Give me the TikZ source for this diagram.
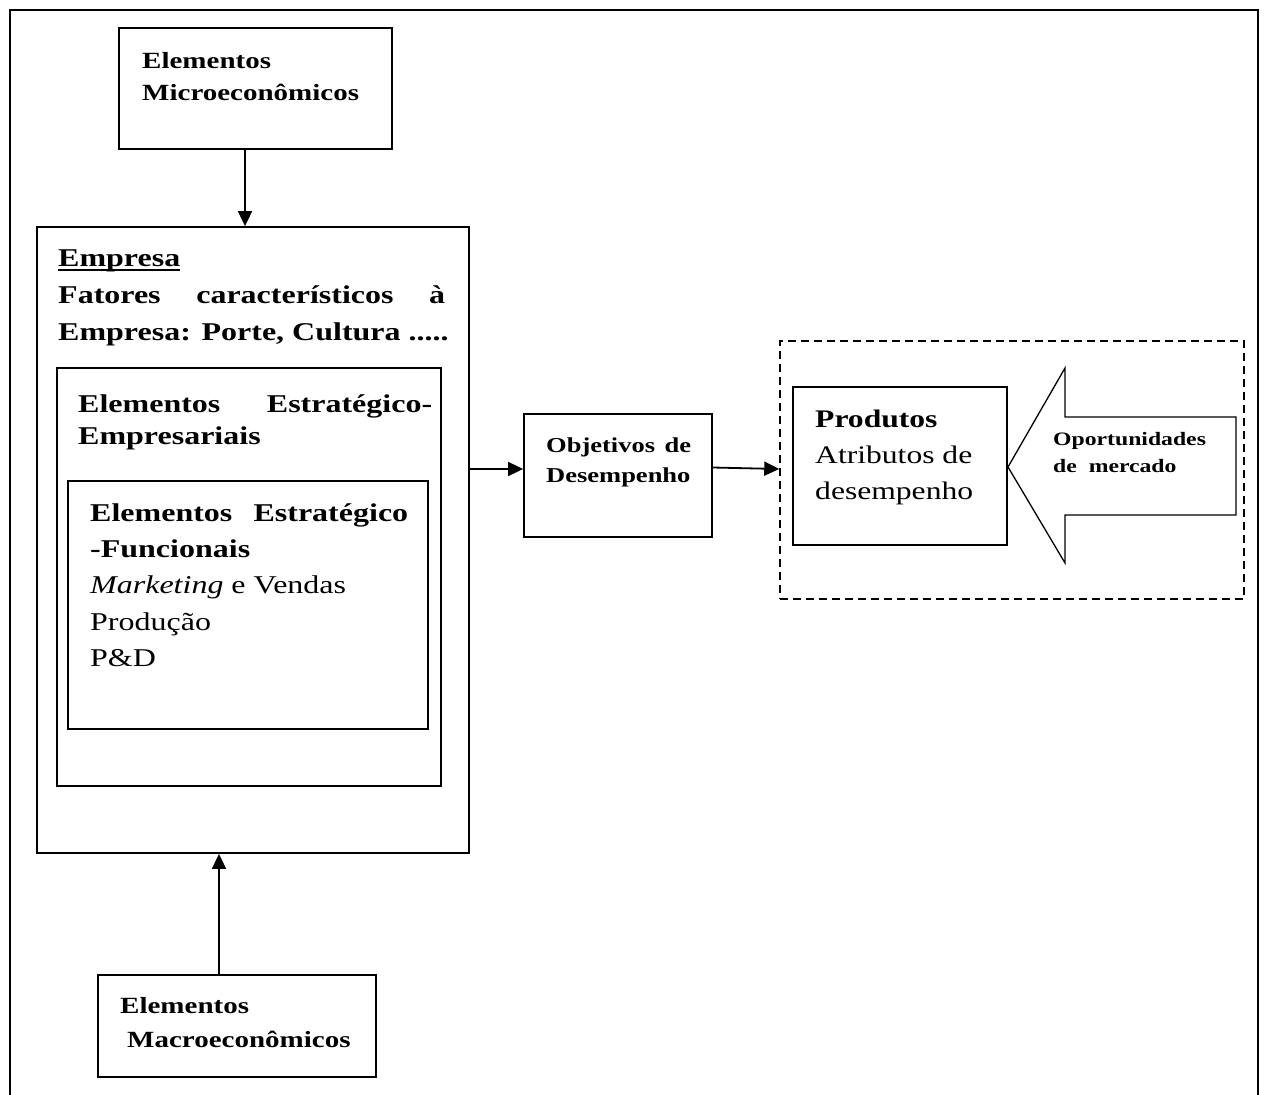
\documentclass[tikz,border=0pt]{standalone}
\usepackage{fontspec}
\setmainfont{Liberation Serif}
\usepackage{graphicx}
\usetikzlibrary{arrows.meta}
\newcommand\blk[3]{\scalebox{1}[0.8]{\fontsize{#1}{#2}\selectfont\begin{tabular}[t]{@{}l@{}}#3\end{tabular}}}
\newcommand\jline[2]{\hbox to #1pt{#2}}
\newcommand\thickul[1]{\setbox0\hbox{#1}\rlap{\rule[-6pt]{\wd0}{2.6pt}}\box0}
\begin{document}
\begin{tikzpicture}[x=1pt,y=-1pt,
  box/.style={draw, line width=1.8pt, inner sep=0pt},
  dashbox/.style={draw, line width=1.5pt, dash pattern=on 8pt off 5pt, inner sep=0pt},
  txt/.style={inner sep=0pt, anchor=base west},
  arr/.style={line width=1.8pt, -{Triangle[length=15pt,width=14pt]}}]
\useasboundingbox (0,0) rectangle (1264,1095);
% outer frame (open at bottom)
\draw[line width=2.2pt] (10,1095) -- (10,10) -- (1258,10) -- (1258,1095);
% boxes
\node[box, minimum width=273, minimum height=121] (micro) at (255.5,88.5) {};
\node[box, minimum width=432, minimum height=626] (emp) at (253,540) {};
\node[box, minimum width=384, minimum height=418] (est) at (249,577) {};
\node[box, minimum width=360, minimum height=248] (fun) at (248,605) {};
\node[box, minimum width=188, minimum height=123] (obj) at (618,475.5) {};
\node[dashbox, minimum width=464, minimum height=258] (dash) at (1012,470) {};
\node[box, minimum width=214, minimum height=158] (prod) at (900,466) {};
\node[box, minimum width=278, minimum height=102] (macro) at (237,1026) {};
% big arrow
\coordinate (tip) at (1008,467);
\draw[line width=1.3pt] (1236,417) -- (1065,417) -- (1065,368) -- (tip) -- (1065,563) -- (1065,515) -- (1236,515) -- cycle;
% texts
\node[txt] (tmicro) at (142,68) {\blk{29}{40}{\bfseries Elementos\\\bfseries Microeconômicos}};
\node[txt] (tmacro) at (120,1013) {\blk{29}{42.5}{\bfseries Elementos\\\bfseries\hspace*{7pt}Macroeconômicos}};
\node[txt] (temp) at (58,266) {\blk{32}{46.5}{\bfseries\thickul{Empresa}\\\bfseries\jline{387}{Fatores\hfill característicos\hfill à}\\\bfseries Empresa: Porte, Cultura .....}};
\node[txt] (test) at (78,412) {\blk{32}{40}{\bfseries\jline{354}{Elementos\hfill Estratégico-}\\\bfseries Empresariais}};
\node[txt] (tfun) at (90,521) {\blk{32}{45.6}{\bfseries\jline{318}{Elementos\hfill Estratégico}\\\bfseries -Funcionais\\\textit{Marketing} e Vendas\\Produção\\P\&D}};
\node[txt] (tobj) at (546,452) {\blk{26.5}{37.5}{\bfseries\jline{145}{Objetivos\hfill de}\\\bfseries Desempenho}};
\node[txt] (tprod) at (815,427) {\blk{31.6}{45}{\bfseries Produtos\\Atributos de\\desempenho}};
\node[txt] (topp) at (1053,445) {\blk{23.7}{33.75}{\bfseries Oportunidades\\\bfseries de\ \ mercado}};
% connectors
\coordinate (cx1) at (245,0);
\coordinate (cx2) at (219,0);
\coordinate (cy1) at (0,469);
\coordinate (cy2) at (0,467.5);
\coordinate (cy3) at (0,469);
\draw[arr] (micro.south -| cx1) -- (emp.north -| cx1);
\draw[arr] (macro.north -| cx2) -- (emp.south -| cx2);
\draw[arr] (emp.east |- cy1) -- (obj.west |- cy1);
\draw[arr] (obj.east |- cy2) -- (dash.west |- cy3);
\end{tikzpicture}
\end{document}
